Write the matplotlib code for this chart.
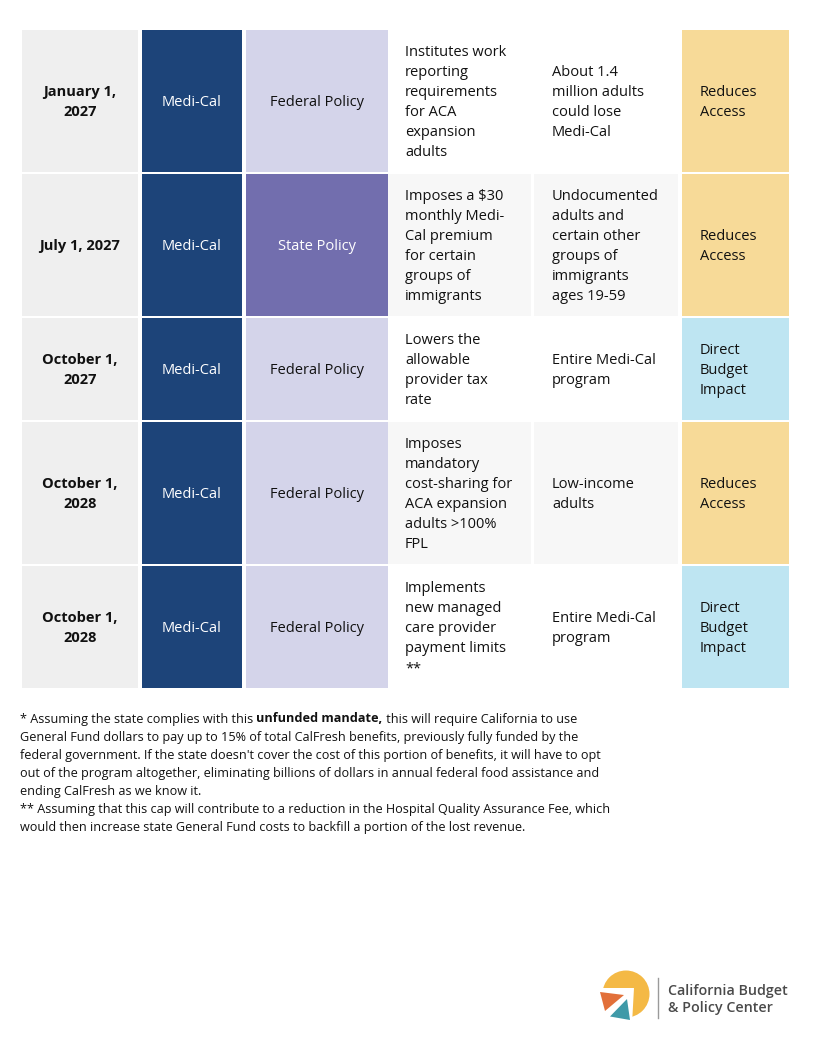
import matplotlib
matplotlib.use("Agg")
import matplotlib.pyplot as plt
from matplotlib.patches import Rectangle, Circle, Polygon

# table content
dates = ["January 1,\n2027", "July 1, 2027", "October 1,\n2027", "October 1,\n2028", "October 1,\n2028"]
programs = ["Medi-Cal", "Medi-Cal", "Medi-Cal", "Medi-Cal", "Medi-Cal"]
policy_types = ["Federal Policy", "State Policy", "Federal Policy", "Federal Policy", "Federal Policy"]
descriptions = [
    "Institutes work\nreporting\nrequirements\nfor ACA\nexpansion\nadults",
    "Imposes a $30\nmonthly Medi-\nCal premium\nfor certain\ngroups of\nimmigrants",
    "Lowers the\nallowable\nprovider tax\nrate",
    "Imposes\nmandatory\ncost-sharing for\nACA expansion\nadults >100%\nFPL",
    "Implements\nnew managed\ncare provider\npayment limits\n**",
]
affected = [
    "About 1.4\nmillion adults\ncould lose\nMedi-Cal",
    "Undocumented\nadults and\ncertain other\ngroups of\nimmigrants\nages 19-59",
    "Entire Medi-Cal\nprogram",
    "Low-income\nadults",
    "Entire Medi-Cal\nprogram",
]
impacts = ["Reduces\nAccess", "Reduces\nAccess", "Direct\nBudget\nImpact", "Reduces\nAccess", "Direct\nBudget\nImpact"]

footnote_1a = "* Assuming the state complies with this "
footnote_1b = "unfunded mandate,"
footnote_1c = " this will require California to use"
footnote_rest = [
    "General Fund dollars to pay up to 15% of total CalFresh benefits, previously fully funded by the",
    "federal government. If the state doesn't cover the cost of this portion of benefits, it will have to opt",
    "out of the program altogether, eliminating billions of dollars in annual federal food assistance and",
    "ending CalFresh as we know it.",
    "** Assuming that this cap will contribute to a reduction in the Hospital Quality Assurance Fee, which",
    "would then increase state General Fund costs to backfill a portion of the lost revenue.",
]
logo_lines = ["California Budget", "& Policy Center"]

policy_colors = {"Federal Policy": ("#d4d4ea", "#111111"), "State Policy": ("#726eae", "white")}
impact_colors = {"Reduces\nAccess": "#f7da98", "Direct\nBudget\nImpact": "#bee5f2"}

FONT = "Open Sans"
W, H = 818, 1048
fig = plt.figure(figsize=(W / 100, H / 100), dpi=100)
ax = fig.add_axes([0, 0, 1, 1])
ax.set_xlim(0, W)
ax.set_ylim(H, 0)
ax.axis("off")

cols = [(22, 138), (142, 242), (246, 388), (388, 531), (534, 678), (682, 789)]
line_h = 20


def cell_text(x, ymid, txt, ha, color="#111111", weight="normal"):
    lines = txt.split("\n")
    top = ymid - (len(lines) - 1) * line_h / 2
    for i, ln in enumerate(lines):
        ax.text(x, top + i * line_h + 5.3, ln, ha=ha, va="baseline", fontsize=10.5,
                family=FONT, color=color, weight=weight)


y = 30
for i in range(len(dates)):
    n = max(t.count("\n") + 1 for t in [dates[i], descriptions[i], affected[i], impacts[i]])
    h = n * line_h + 22
    ymid = y + h / 2
    band = "white" if i % 2 == 0 else "#f7f7f7"
    pfill, ptext = policy_colors[policy_types[i]]
    fills = ["#efefef", "#1d4479", pfill, band, band, impact_colors[impacts[i]]]
    for (x0, x1), fc in zip(cols, fills):
        ax.add_patch(Rectangle((x0, y), x1 - x0, h, facecolor=fc, edgecolor="none"))
    cell_text(sum(cols[0]) / 2, ymid, dates[i], "center", weight="bold")
    cell_text(sum(cols[1]) / 2, ymid, programs[i], "center", color="white")
    cell_text(sum(cols[2]) / 2, ymid, policy_types[i], "center", color=ptext)
    cell_text(405, ymid, descriptions[i], "left")
    cell_text(552, ymid, affected[i], "left")
    cell_text(700, ymid, impacts[i], "left")
    y += h + 2

# footnotes
fs = 9.12
renderer = fig.canvas.get_renderer()
fy = 722.5
x = 20
for part, wt in [(footnote_1a, "normal"), (footnote_1b, "bold"), (footnote_1c, "normal")]:
    t = ax.text(x, fy, part, ha="left", va="baseline", fontsize=fs, family=FONT,
                weight=wt, color="#111111")
    bb = t.get_window_extent(renderer)
    x += bb.width
for k, ln in enumerate(footnote_rest):
    ax.text(20, fy + 18 * (k + 1), ln, ha="left", va="baseline", fontsize=fs,
            family=FONT, color="#111111")

# logo
cx, cy, r = 626, 994, 23.5
ax.add_patch(Circle((cx, cy), r, facecolor="#f4b945", edgecolor="none"))
ax.add_patch(Polygon([(634, 988), (596, 988), (596, 1024), (632, 1024)], closed=True,
                     facecolor="white", edgecolor="none"))
ax.add_patch(Polygon([(600, 992), (624, 995), (605, 1011)], closed=True,
                     facecolor="#e2703a", edgecolor="none"))
ax.add_patch(Polygon([(610, 1016.5), (627, 999), (630, 1020)], closed=True,
                     facecolor="#3f9aa8", edgecolor="none"))
ax.plot([658, 658], [978, 1018], color="#9a9a9a", lw=1)
ax.text(668, 995, logo_lines[0], ha="left", va="baseline", fontsize=10.3, family=FONT,
        weight="semibold", color="#4a4a4a")
ax.text(668, 1011.7, logo_lines[1], ha="left", va="baseline", fontsize=10.3, family=FONT,
        weight="semibold", color="#4a4a4a")

fig.savefig("out.png", dpi=100)
